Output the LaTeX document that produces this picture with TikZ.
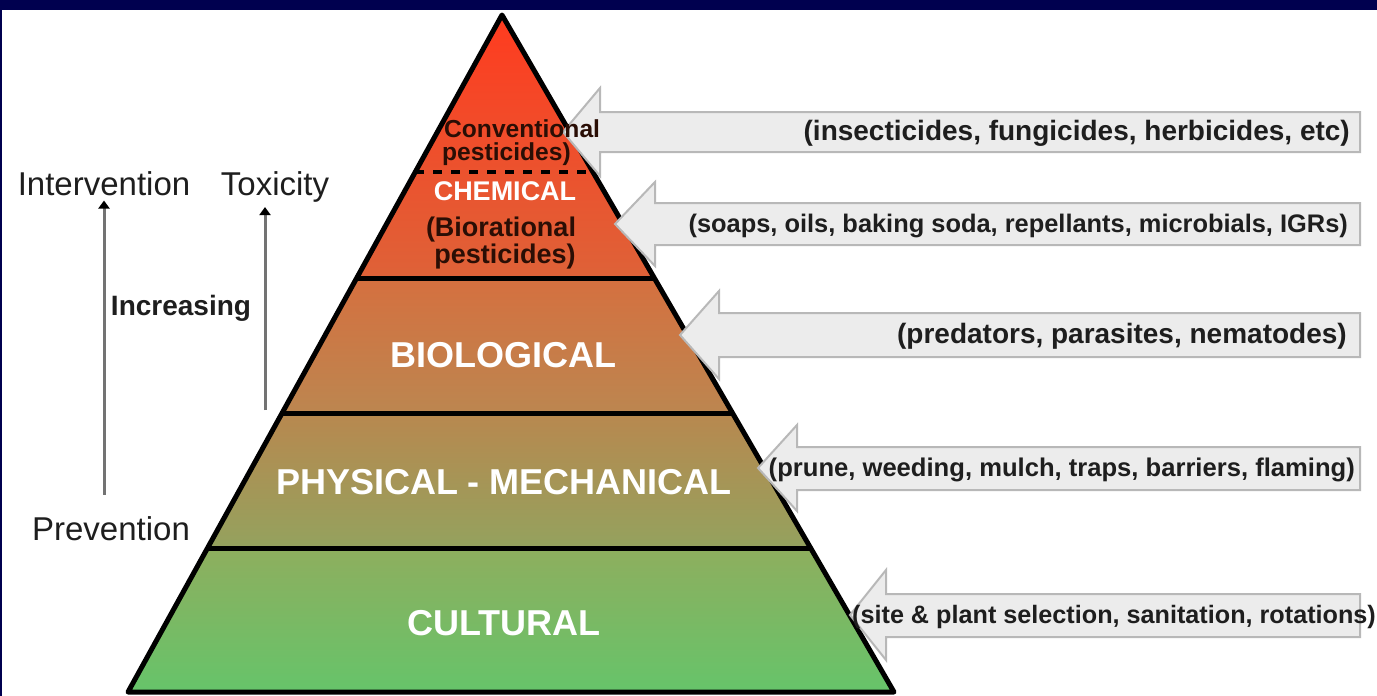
\documentclass[tikz,border=0pt]{standalone}
\usepackage{fontspec}
\setmainfont{Liberation Sans}
\usetikzlibrary{arrows.meta,calc}

\definecolor{navy}{HTML}{00004F}
\definecolor{chemtop}{HTML}{FF3B1F}
\definecolor{chembot}{HTML}{DE6238}
\definecolor{biotop}{HTML}{D5703F}
\definecolor{biobot}{HTML}{BC8650}
\definecolor{phystop}{HTML}{B8884F}
\definecolor{physbot}{HTML}{94A25E}
\definecolor{culttop}{HTML}{8EAE5E}
\definecolor{cultbot}{HTML}{66C46A}
\definecolor{calloutfill}{HTML}{ECECEC}
\definecolor{calloutline}{HTML}{B8B8B8}
\definecolor{darktext}{HTML}{1E1E1E}
\definecolor{pesttext}{HTML}{2A0E05}

\begin{document}
\begin{tikzpicture}[x=1pt,y=-1pt]
  \tikzstyle{edge} = [draw=black, line width=5pt, line join=round]
  \tikzstyle{callout} = [fill=calloutfill, draw=calloutline, line width=2pt, line join=miter]
  \tikzstyle{note} = [text=darktext, anchor=base east, inner sep=0pt, font=\bfseries\fontsize{26}{30}\selectfont]
  \tikzstyle{level} = [text=white, anchor=base, inner sep=0pt, font=\bfseries\fontsize{36}{40}\selectfont]
  \tikzstyle{pest} = [text=pesttext, anchor=base, inner sep=0pt, font=\bfseries\fontsize{27}{30}\selectfont]
  \tikzstyle{side} = [text=darktext, anchor=base, inner sep=0pt, font=\fontsize{33}{36}\selectfont]
  \tikzstyle{rise} = [draw=black!55, line width=3pt, -{Triangle[length=8pt,width=11pt,color=black]}]

  \useasboundingbox (0,0) rectangle (1377,696);
  \fill[white] (0,0) rectangle (1377,696);
  \fill[navy] (0,0) rectangle (1377,10);
  \fill[navy] (0,0) rectangle (2,696);

  % pyramid corners and layer edges
  \coordinate (apex) at (502,15);
  \coordinate (bl) at (128,692);
  \coordinate (br) at (894,692);
  \coordinate (l1) at ($(apex)!0.2319!(bl)$);
  \coordinate (r1) at ($(apex)!0.2319!(br)$);
  \coordinate (l2) at ($(apex)!0.3885!(bl)$);
  \coordinate (r2) at ($(apex)!0.3885!(br)$);
  \coordinate (l3) at ($(apex)!0.5879!(bl)$);
  \coordinate (r3) at ($(apex)!0.5879!(br)$);
  \coordinate (l4) at ($(apex)!0.7873!(bl)$);
  \coordinate (r4) at ($(apex)!0.7873!(br)$);

  \shade[top color=chemtop, bottom color=chembot] (apex) -- (r2) -- (l2) -- cycle;
  \shade[top color=biotop, bottom color=biobot] (l2) -- (r2) -- (r3) -- (l3) -- cycle;
  \shade[top color=phystop, bottom color=physbot] (l3) -- (r3) -- (r4) -- (l4) -- cycle;
  \shade[top color=culttop, bottom color=cultbot] (l4) -- (r4) -- (br) -- (bl) -- cycle;

  \draw[black, line width=4pt, dash pattern=on 9pt off 9pt] (l1) -- (r1);
  \draw[edge] (l2) -- (r2);
  \draw[edge] (l3) -- (r3);
  \draw[edge] (l4) -- (r4);
  \draw[edge] (apex) -- (bl) -- (br) -- cycle;

  % block arrows
  \draw[callout] (563,132) -- (600,88) -- (600,112) -- (1360,112) -- (1360,152) -- (600,152) -- (600,176) -- cycle;
  \draw[callout] (615,224) -- (655,182) -- (655,203) -- (1360,203) -- (1360,245) -- (655,245) -- (655,266) -- cycle;
  \draw[callout] (680,335) -- (719,291) -- (719,313) -- (1360,313) -- (1360,357) -- (719,357) -- (719,379) -- cycle;
  \draw[callout] (758,468) -- (797,425) -- (797,447) -- (1360,447) -- (1360,490) -- (797,490) -- (797,511) -- cycle;
  \draw[callout] (850,615) -- (886,570) -- (886,594) -- (1360,594) -- (1360,637) -- (886,637) -- (886,660) -- cycle;

  \node[note, font=\bfseries\fontsize{28}{30}\selectfont] (insect) at (1350,140) {(insecticides, fungicides, herbicides, etc)};
  \node[note, font=\bfseries\fontsize{25.4}{30}\selectfont] (soaps) at (1348,232) {(soaps, oils, baking soda, repellants, microbials, IGRs)};
  \node[note, font=\bfseries\fontsize{28}{30}\selectfont] (preds) at (1347,343) {(predators, parasites, nematodes)};
  \node[note, font=\bfseries\fontsize{25.6}{30}\selectfont] (prune) at (1355,476) {(prune, weeding, mulch, traps, barriers, flaming)};
  \node[note, anchor=base west, font=\bfseries\fontsize{25.2}{30}\selectfont] (site) at (852,623) {(site \& plant selection, sanitation, rotations)};

  % pyramid labels
  \node[pest, anchor=base west, font=\bfseries\fontsize{24.6}{30}\selectfont] (conv) at (444,137) {Conventional};
  \node[pest, anchor=base west, font=\bfseries\fontsize{24.6}{30}\selectfont] (convb) at (442,160) {pesticides)};
  \node[level, font=\bfseries\fontsize{27}{30}\selectfont] (chem) at (505,200) {CHEMICAL};
  \node[pest] (bior) at (501,236) {(Biorational};
  \node[pest] (biorb) at (505,263) {pesticides)};
  \node[level] (bio) at (503,367) {BIOLOGICAL};
  \node[level] (phys) at (504,494) {PHYSICAL - MECHANICAL};
  \node[level] (cult) at (504,635) {CULTURAL};

  % left side
  \node[side] (interv) at (104,195) {Intervention};
  \node[side] (tox) at (275,195) {Toxicity};
  \node[side] (prev) at (111,540) {Prevention};
  \node[side, font=\bfseries\fontsize{28}{30}\selectfont] (incr) at (181,315) {Increasing};
  \coordinate (toxbase) at (265,410);

  \draw[rise, shorten <=21pt, shorten >=5pt] (prev.north -| interv.south) -- (interv.south);
  \draw[rise, shorten >=5pt] (toxbase) -- (toxbase |- tox.south);

\end{tikzpicture}
\end{document}
